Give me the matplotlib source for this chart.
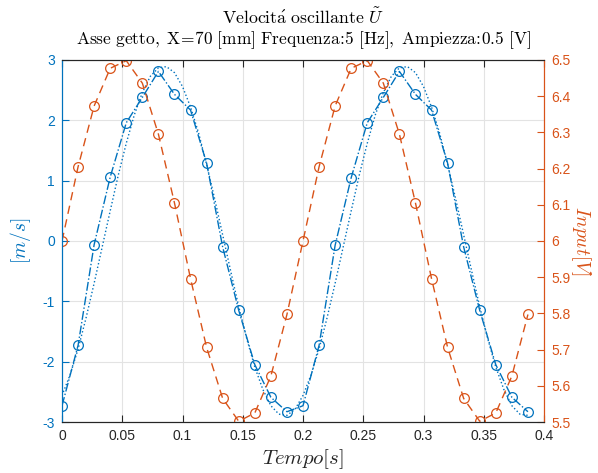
import matplotlib
matplotlib.use("Agg")
import matplotlib.pyplot as plt
import numpy as np

plt.rcParams["mathtext.fontset"] = "cm"
plt.rcParams["font.family"] = ["Liberation Sans", "DejaVu Sans"]
plt.rcParams["axes.unicode_minus"] = False

# Sample times [s]
t = [k / 75 for k in range(30)]

# Measured velocity [m/s]
velocity = [-2.73, -1.73, -0.06, 1.06, 1.96, 2.38, 2.81, 2.43, 2.17, 1.29,
            -0.10, -1.15, -2.05, -2.59, -2.83,
            -2.73, -1.73, -0.07, 1.05, 1.96, 2.38, 2.81, 2.43, 2.17, 1.29,
            -0.10, -1.15, -2.05, -2.59, -2.83]

# Input voltage [V]
voltage = [6.00, 6.205, 6.373, 6.477, 6.498, 6.436, 6.295, 6.105, 5.896, 5.706,
           5.565, 5.502, 5.525, 5.627, 5.797,
           6.00, 6.205, 6.373, 6.477, 6.498, 6.436, 6.295, 6.105, 5.896, 5.706,
           5.565, 5.502, 5.525, 5.627, 5.797]

# Sinusoidal fit of the velocity, sampled on a finer time grid
t_fit = [k / 150 for k in range(59)]
velocity_fit = [-2.56, -2.22, -1.79, -1.27, -0.70, -0.10, 0.50, 1.09, 1.62, 2.09,
                2.46, 2.73, 2.87, 2.89, 2.79, 2.56, 2.22, 1.79, 1.27, 0.70,
                0.10, -0.50, -1.09, -1.62, -2.09, -2.46, -2.73, -2.87, -2.89, -2.79,
                -2.56, -2.22, -1.79, -1.27, -0.70, -0.10, 0.50, 1.09, 1.62, 2.09,
                2.46, 2.73, 2.87, 2.89, 2.79, 2.56, 2.22, 1.79, 1.27, 0.70,
                0.10, -0.50, -1.09, -1.62, -2.09, -2.46, -2.73, -2.87, -2.89]

x_ticks = [0, 0.05, 0.1, 0.15, 0.2, 0.25, 0.3, 0.35, 0.4]
x_ticklabels = ["0", "0.05", "0.1", "0.15", "0.2", "0.25", "0.3", "0.35", "0.4"]
left_ticks = [-3, -2, -1, 0, 1, 2, 3]
right_ticks = [5.5, 5.6, 5.7, 5.8, 5.9, 6.0, 6.1, 6.2, 6.3, 6.4, 6.5]
right_ticklabels = ["5.5", "5.6", "5.7", "5.8", "5.9", "6", "6.1", "6.2", "6.3", "6.4", "6.5"]

BLUE = "#0072BD"
ORANGE = "#D95319"
DARK = "#262626"
GRID = "#e3e3e3"

fig = plt.figure(figsize=(5.98, 4.73), dpi=100)
ax = fig.add_axes([0.1037, 0.1078, 0.8060, 0.7654])
ax2 = ax.twinx()

# Left axis: velocity
ax.plot(t_fit, velocity_fit, linestyle=":", color=BLUE, lw=1.0)
ax.plot(t, velocity, linestyle="-.", color=BLUE, lw=1.0,
        marker="o", markersize=7, markerfacecolor="none", markeredgewidth=0.9)
ax.set_xlim(0, 0.4)
ax.set_ylim(-3, 3)
ax.set_xticks(x_ticks)
ax.set_xticklabels(x_ticklabels)
ax.set_yticks(left_ticks)
ax.grid(True, color=GRID, lw=0.8)
ax.set_axisbelow(True)

# Right axis: input voltage
ax2.plot(t, voltage, linestyle=(0, (6, 4)), color=ORANGE, lw=1.0,
         marker="o", markersize=7, markerfacecolor="none", markeredgewidth=0.9)
ax2.set_ylim(5.5, 6.5)
ax2.set_yticks(right_ticks)
ax2.set_yticklabels(right_ticklabels)

for a in (ax, ax2):
    a.spines["top"].set_color(DARK)
    a.spines["bottom"].set_color(DARK)
    a.spines["left"].set_color(BLUE)
    a.spines["right"].set_color(ORANGE)
    for s in a.spines.values():
        s.set_linewidth(0.8)

ax.tick_params(axis="x", direction="in", length=5, width=0.8, colors=DARK,
               labelsize=10, top=True, pad=5)
ax.tick_params(axis="y", direction="in", length=5, width=0.8, colors=BLUE,
               labelsize=10, pad=5)
ax2.tick_params(axis="y", direction="in", length=5, width=0.8, colors=ORANGE,
                labelsize=10, pad=5)

ax.set_xlabel(r"$Tempo[s]$", fontsize=15, color=DARK, labelpad=3)
ax.set_ylabel(r"$[m/s]$", fontsize=14, color=BLUE, labelpad=7)
ax2.set_ylabel(r"$Input[V]$", fontsize=14, color=ORANGE, rotation=270, labelpad=16)

fig.text(0.507, 0.962, r"$\mathrm{Velocit\acute{a}\ oscillante}\ \tilde{U}$",
         ha="center", va="center", fontsize=12.8, color="black")
fig.text(0.507, 0.915,
         r"$\mathrm{Asse\ getto,\ X\!=\!70\ [mm]\ Frequenza\!:\!5\ [Hz],\ Ampiezza\!:\!0.5\ [V]}$",
         ha="center", va="center", fontsize=12.5, color="black")

fig.savefig("out.png", dpi=100)
